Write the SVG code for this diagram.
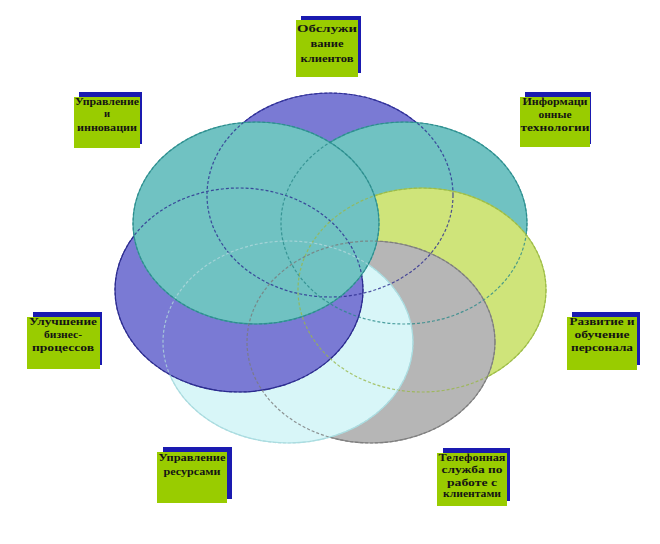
<svg xmlns="http://www.w3.org/2000/svg" width="660" height="544" viewBox="0 0 660 544">
<style>
.box{fill:#99cc00}
.sh{fill:#1a1ab0}
.t{font-family:"Liberation Serif","Times New Roman",serif;font-size:10.5px;font-weight:bold;fill:#141414;text-anchor:middle}
.o{fill:none;stroke-width:1.2;stroke-dasharray:3 2}
</style>
<rect width="660" height="544" fill="#ffffff"/>
<g id="ellipses">
<ellipse id="e-top" cx="330" cy="195" rx="123" ry="102" fill="#7a7ad4" stroke="#3c3ca8" stroke-width="1.2"/>
<ellipse id="e-tr" cx="404" cy="223" rx="123" ry="101" fill="#70c2c2" stroke="#3a9c9c" stroke-width="1.2"/>
<ellipse id="e-yl" cx="422" cy="290" rx="124" ry="102" fill="#cfe47a" stroke="#a8c84a" stroke-width="1.2"/>
<ellipse id="e-gr" cx="371" cy="342" rx="124" ry="101" fill="#b6b6b6" stroke="#8a8a8a" stroke-width="1.2"/>
<ellipse id="e-cy" cx="288" cy="342" rx="125" ry="101" fill="#d8f6f8" stroke="#a8e0e4" stroke-width="1.2"/>
<ellipse id="e-pl" cx="239" cy="290" rx="124" ry="102" fill="#7a7ad4" stroke="#2c2c90" stroke-width="1.2"/>
<ellipse id="e-tl" cx="256" cy="223" rx="123" ry="101" fill="#70c2c2" stroke="#3a9c9c" stroke-width="1.2"/>
</g>
<g id="connectors" opacity="0.8">
<ellipse class="o" cx="330" cy="195" rx="123" ry="102" stroke="#2c2c90"/>
<ellipse class="o" cx="404" cy="223" rx="123" ry="101" stroke="#2a8a8a"/>
<ellipse class="o" cx="422" cy="290" rx="124" ry="102" stroke="#9ab84a"/>
<ellipse class="o" cx="371" cy="342" rx="124" ry="101" stroke="#7a7a7a"/>
<ellipse class="o" cx="288" cy="342" rx="125" ry="101" stroke="#b0d8dc"/>
<ellipse class="o" cx="239" cy="290" rx="124" ry="102" stroke="#2c2c90"/>
<ellipse class="o" cx="256" cy="223" rx="123" ry="101" stroke="#2a8a8a"/>
</g>
<g id="n1">
<rect class="sh" x="301" y="16" width="60" height="57"/>
<rect class="box" x="296" y="20" width="62" height="57"/>
<text class="t" x="327" y="32" textLength="60" lengthAdjust="spacingAndGlyphs">Обслужи</text>
<text class="t" x="327" y="47" textLength="33" lengthAdjust="spacingAndGlyphs">вание</text>
<text class="t" x="327" y="62" textLength="53" lengthAdjust="spacingAndGlyphs">клиентов</text>
</g>
<g id="n2">
<rect class="sh" x="79" y="92" width="63" height="52"/>
<rect class="box" x="74" y="97" width="66" height="51"/>
<text class="t" x="107" y="105" textLength="64" lengthAdjust="spacingAndGlyphs">Управление</text>
<text class="t" x="107" y="117">и</text>
<text class="t" x="107" y="131" textLength="60" lengthAdjust="spacingAndGlyphs">инновации</text>
</g>
<g id="n3">
<rect class="sh" x="525" y="92" width="66" height="52"/>
<rect class="box" x="520" y="97" width="70" height="50"/>
<text class="t" x="555" y="105" textLength="65" lengthAdjust="spacingAndGlyphs">Информаци</text>
<text class="t" x="555" y="118" textLength="33" lengthAdjust="spacingAndGlyphs">онные</text>
<text class="t" x="555" y="131" textLength="69" lengthAdjust="spacingAndGlyphs">технологии</text>
</g>
<g id="n4">
<rect class="sh" x="33" y="312" width="69" height="53"/>
<rect class="box" x="27" y="317" width="73" height="52"/>
<text class="t" x="63" y="325" textLength="68" lengthAdjust="spacingAndGlyphs">Улучшение</text>
<text class="t" x="63" y="338" textLength="38" lengthAdjust="spacingAndGlyphs">бизнес-</text>
<text class="t" x="63" y="351" textLength="62" lengthAdjust="spacingAndGlyphs">процессов</text>
</g>
<g id="n5">
<rect class="sh" x="572" y="312" width="68" height="53"/>
<rect class="box" x="567" y="317" width="70" height="53"/>
<text class="t" x="602" y="325" textLength="65" lengthAdjust="spacingAndGlyphs">Развитие и</text>
<text class="t" x="602" y="338" textLength="55" lengthAdjust="spacingAndGlyphs">обучение</text>
<text class="t" x="602" y="351" textLength="62" lengthAdjust="spacingAndGlyphs">персонала</text>
</g>
<g id="n6">
<rect class="sh" x="163" y="447" width="69" height="52"/>
<rect class="box" x="157" y="452" width="70" height="51"/>
<text class="t" x="192" y="461" textLength="67" lengthAdjust="spacingAndGlyphs">Управление</text>
<text class="t" x="192" y="475" textLength="57" lengthAdjust="spacingAndGlyphs">ресурсами</text>
</g>
<g id="n7">
<rect class="sh" x="443" y="448" width="67" height="53"/>
<rect class="box" x="437" y="453" width="70" height="53"/>
<text class="t" x="472" y="461" textLength="67" lengthAdjust="spacingAndGlyphs">Телефонная</text>
<text class="t" x="472" y="473" textLength="61" lengthAdjust="spacingAndGlyphs">служба по</text>
<text class="t" x="472" y="486" textLength="50" lengthAdjust="spacingAndGlyphs">работе с</text>
<text class="t" x="472" y="497" textLength="58" lengthAdjust="spacingAndGlyphs">клиентами</text>
</g>
</svg>
